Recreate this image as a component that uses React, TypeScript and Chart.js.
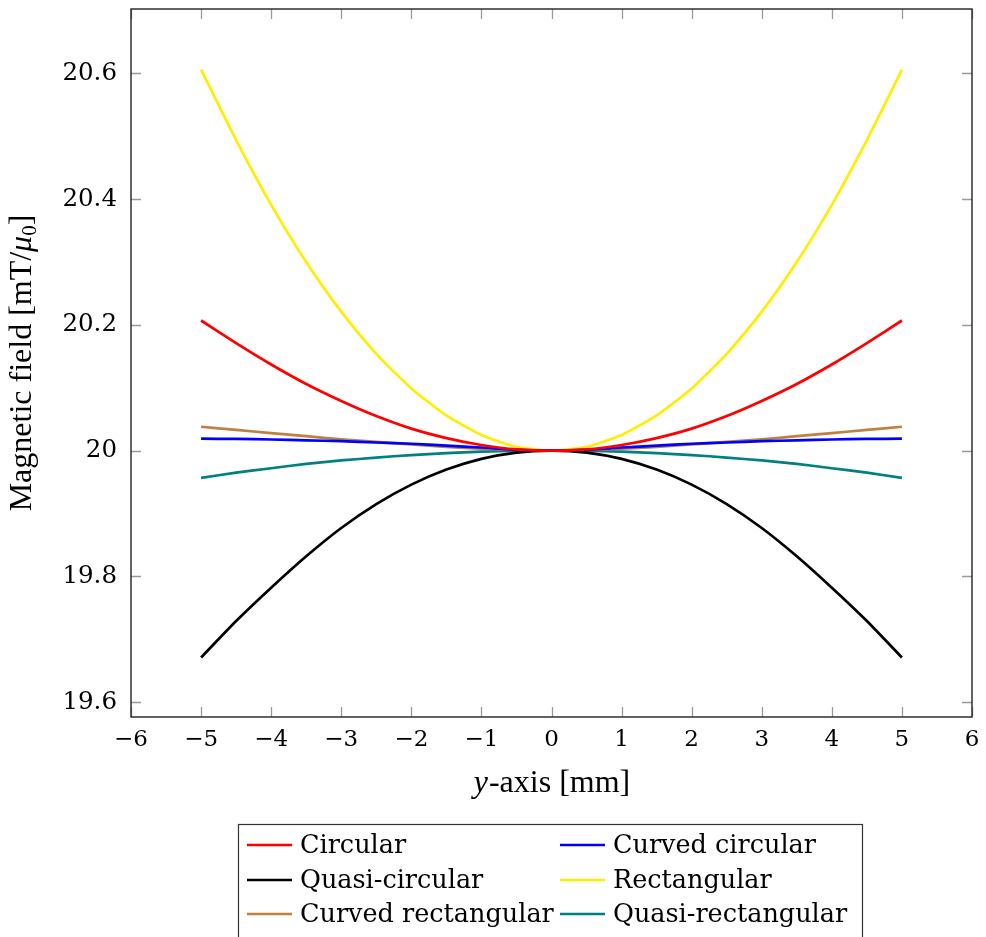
import { useEffect, useRef } from "react";
import { Chart, registerables } from "chart.js";

Chart.register(...registerables);

// positions along the y-axis [mm]
const positions = [-5, -4.5, -4, -3.5, -3, -2.5, -2, -1.5, -1, -0.5, 0, 0.5, 1, 1.5, 2, 2.5, 3, 3.5, 4, 4.5, 5];

// magnetic field [mT/mu0]
const circular = [
  20.207, 20.171, 20.137, 20.106, 20.079, 20.055, 20.035, 20.02, 20.009, 20.002, 20.0,
  20.002, 20.009, 20.02, 20.035, 20.055, 20.079, 20.106, 20.137, 20.171, 20.207,
];
const curvedCircular = [
  20.019, 20.0186, 20.0177, 20.0165, 20.015, 20.013, 20.011, 20.008, 20.005, 20.0015, 20.0,
  20.0015, 20.005, 20.008, 20.011, 20.013, 20.015, 20.0165, 20.0177, 20.0186, 20.019,
];
const quasiCircular = [
  19.671, 19.729, 19.782, 19.832, 19.877, 19.915, 19.946, 19.97, 19.987, 19.997, 20.0,
  19.997, 19.987, 19.97, 19.946, 19.915, 19.877, 19.832, 19.782, 19.729, 19.671,
];
const rectangular = [
  20.606, 20.494, 20.391, 20.3, 20.221, 20.154, 20.099, 20.056, 20.025, 20.006, 20.0,
  20.006, 20.025, 20.056, 20.099, 20.154, 20.221, 20.3, 20.391, 20.494, 20.606,
];
const curvedRectangular = [
  20.038, 20.033, 20.028, 20.023, 20.018, 20.014, 20.01, 20.006, 20.003, 20.001, 20.0,
  20.001, 20.003, 20.006, 20.01, 20.014, 20.018, 20.023, 20.028, 20.033, 20.038,
];
const quasiRectangular = [
  19.9566, 19.965, 19.972, 19.979, 19.9844, 19.989, 19.993, 19.996, 19.9983, 19.9996, 20.0,
  19.9996, 19.9983, 19.996, 19.993, 19.989, 19.9844, 19.979, 19.972, 19.965, 19.9566,
];

const seriesNames = [
  "Circular",
  "Curved circular",
  "Quasi-circular",
  "Rectangular",
  "Curved rectangular",
  "Quasi-rectangular",
];
const seriesValues = [circular, curvedCircular, quasiCircular, rectangular, curvedRectangular, quasiRectangular];
const seriesColors = ["#ff0000", "#0000ff", "#000000", "#ffee00", "#bf8040", "#008080"];

const xTicks = [-6, -5, -4, -3, -2, -1, 0, 1, 2, 3, 4, 5, 6];
const yTicks = [19.6, 19.8, 20.0, 20.2, 20.4, 20.6];
const xMin = -6;
const xMax = 6;
const yMin = 19.5764;
const yMax = 20.7024;

const xTitleItalic = "y";
const xTitleRest = "-axis [mm]";
const yTitleMain = "Magnetic field [mT/";
const yTitleMu = "μ";
const yTitleSub = "0";
const yTitleEnd = "]";

const SERIF_WIDE = "'DejaVu Serif', serif";
const SERIF = "'Liberation Serif', serif";
const TITLE_SIZE = 32;

const framePlugin = {
  id: "framePlugin",
  afterDraw(chart: any) {
    const { ctx, chartArea, scales } = chart;
    const { left, right, top, bottom } = chartArea;
    const xs = scales.x;
    const ys = scales.y;
    ctx.save();
    // inward ticks on all sides
    ctx.strokeStyle = "#9a9a9a";
    ctx.lineWidth = 1.3;
    const tl = 10;
    ctx.beginPath();
    xTicks.forEach((v) => {
      const px = Math.round(xs.getPixelForValue(v)) + 0.5;
      ctx.moveTo(px, bottom);
      ctx.lineTo(px, bottom - tl);
      ctx.moveTo(px, top);
      ctx.lineTo(px, top + tl);
    });
    yTicks.forEach((v) => {
      const py = Math.round(ys.getPixelForValue(v)) + 0.5;
      ctx.moveTo(left, py);
      ctx.lineTo(left + tl, py);
      ctx.moveTo(right, py);
      ctx.lineTo(right - tl, py);
    });
    ctx.stroke();
    // frame
    ctx.strokeStyle = "#222";
    ctx.lineWidth = 1.4;
    ctx.strokeRect(left, top, right - left, bottom - top);

    // x-axis title
    const fs = TITLE_SIZE;
    ctx.fillStyle = "#000";
    ctx.textBaseline = "alphabetic";
    ctx.font = `italic ${fs}px ${SERIF}`;
    const wI = ctx.measureText(xTitleItalic).width;
    ctx.font = `${fs}px ${SERIF}`;
    const wR = ctx.measureText(xTitleRest).width;
    const cx = (left + right) / 2;
    const startX = cx - (wI + wR) / 2;
    const baseY = bottom + 75;
    ctx.font = `italic ${fs}px ${SERIF}`;
    ctx.fillText(xTitleItalic, startX, baseY);
    ctx.font = `${fs}px ${SERIF}`;
    ctx.fillText(xTitleRest, startX + wI + 1, baseY);

    // y-axis title (rotated)
    ctx.save();
    const cy = (top + bottom) / 2;
    ctx.translate(left - 100, cy);
    ctx.rotate(-Math.PI / 2);
    ctx.font = `${fs}px ${SERIF}`;
    const w1 = ctx.measureText(yTitleMain).width;
    ctx.font = `italic ${fs}px ${SERIF}`;
    const w2 = ctx.measureText(yTitleMu).width;
    ctx.font = `${Math.round(fs * 0.65)}px ${SERIF}`;
    const w3 = ctx.measureText(yTitleSub).width;
    ctx.font = `${fs}px ${SERIF}`;
    const w4 = ctx.measureText(yTitleEnd).width;
    let tx = -(w1 + w2 + w3 + w4) / 2;
    ctx.font = `${fs}px ${SERIF}`;
    ctx.fillText(yTitleMain, tx, 0);
    tx += w1;
    ctx.font = `italic ${fs}px ${SERIF}`;
    ctx.fillText(yTitleMu, tx, 0);
    tx += w2;
    ctx.font = `${Math.round(fs * 0.65)}px ${SERIF}`;
    ctx.fillText(yTitleSub, tx, 5);
    tx += w3;
    ctx.font = `${fs}px ${SERIF}`;
    ctx.fillText(yTitleEnd, tx, 0);
    ctx.restore();

    // legend
    const boxLeft = left + 107;
    const boxTop = bottom + 107;
    const boxRight = left + 731;
    ctx.strokeStyle = "#333";
    ctx.lineWidth = 1.2;
    ctx.strokeRect(boxLeft + 0.5, boxTop + 0.5, boxRight - boxLeft, 200);
    const rowY = [boxTop + 21, boxTop + 56, boxTop + 90];
    const colX = [boxLeft + 9, boxLeft + 322];
    ctx.font = `25.5px ${SERIF_WIDE}`;
    ctx.textBaseline = "middle";
    chart.data.datasets.forEach((ds: any, i: number) => {
      const col = i % 2;
      const row = Math.floor(i / 2);
      const lx = colX[col];
      const ly = rowY[row];
      ctx.strokeStyle = ds.borderColor;
      ctx.lineWidth = 2.6;
      ctx.beginPath();
      ctx.moveTo(lx, ly);
      ctx.lineTo(lx + 45, ly);
      ctx.stroke();
      ctx.fillStyle = "#000";
      ctx.fillText(ds.label, lx + 53, ly + 1);
    });
    ctx.restore();
  },
};

export default function App() {
  const canvasRef = useRef<HTMLCanvasElement | null>(null);

  useEffect(() => {
    document.body.style.overflow = "hidden";
    const canvas = canvasRef.current;
    if (!canvas) return;
    const chart = new Chart(canvas, {
      type: "line",
      data: {
        datasets: seriesNames.map((name, i) => ({
          label: name,
          data: positions.map((x, j) => ({ x, y: seriesValues[i][j] })),
          borderColor: seriesColors[i],
          backgroundColor: seriesColors[i],
          borderWidth: 2.7,
          pointRadius: 0,
          fill: false,
          tension: 0.2,
        })),
      },
      options: {
        responsive: false,
        animation: false,
        devicePixelRatio: 1,
        layout: { padding: { left: 0, right: 6, top: 1, bottom: 170 } },
        plugins: {
          legend: { display: false },
          tooltip: { enabled: false },
        },
        scales: {
          x: {
            type: "linear",
            min: xMin,
            max: xMax,
            grid: { display: false, drawTicks: false },
            border: { display: false },
            afterBuildTicks: (scale: any) => {
              scale.ticks = xTicks.map((v) => ({ value: v }));
            },
            afterFit: (scale: any) => {
              scale.height = 50;
              scale.paddingLeft = 0;
              scale.paddingRight = 0;
            },
            ticks: {
              padding: 9,
              color: "#000",
              maxRotation: 0,
              autoSkip: false,
              font: { family: SERIF_WIDE, size: 23 },
              callback: (v: any) => (Number(v) < 0 ? "\u2212" + Math.abs(Number(v)) : String(Number(v))),
            },
          },
          y: {
            type: "linear",
            min: yMin,
            max: yMax,
            grid: { display: false, drawTicks: false },
            border: { display: false },
            afterBuildTicks: (scale: any) => {
              scale.ticks = yTicks.map((v) => ({ value: v }));
            },
            afterFit: (scale: any) => {
              scale.width = 123;
              scale.paddingTop = 0;
              scale.paddingBottom = 0;
            },
            ticks: {
              padding: 14,
              color: "#000",
              autoSkip: false,
              font: { family: SERIF_WIDE, size: 24.5 },
              callback: (v: any) => String(Math.round(Number(v) * 10) / 10),
            },
          },
        },
      },
      plugins: [framePlugin],
    });
    return () => chart.destroy();
  }, []);

  return (
    <div style={{ width: 970, height: 929 }}>
      <canvas ref={canvasRef} width={970} height={929} style={{ display: "block" }} />
    </div>
  );
}
